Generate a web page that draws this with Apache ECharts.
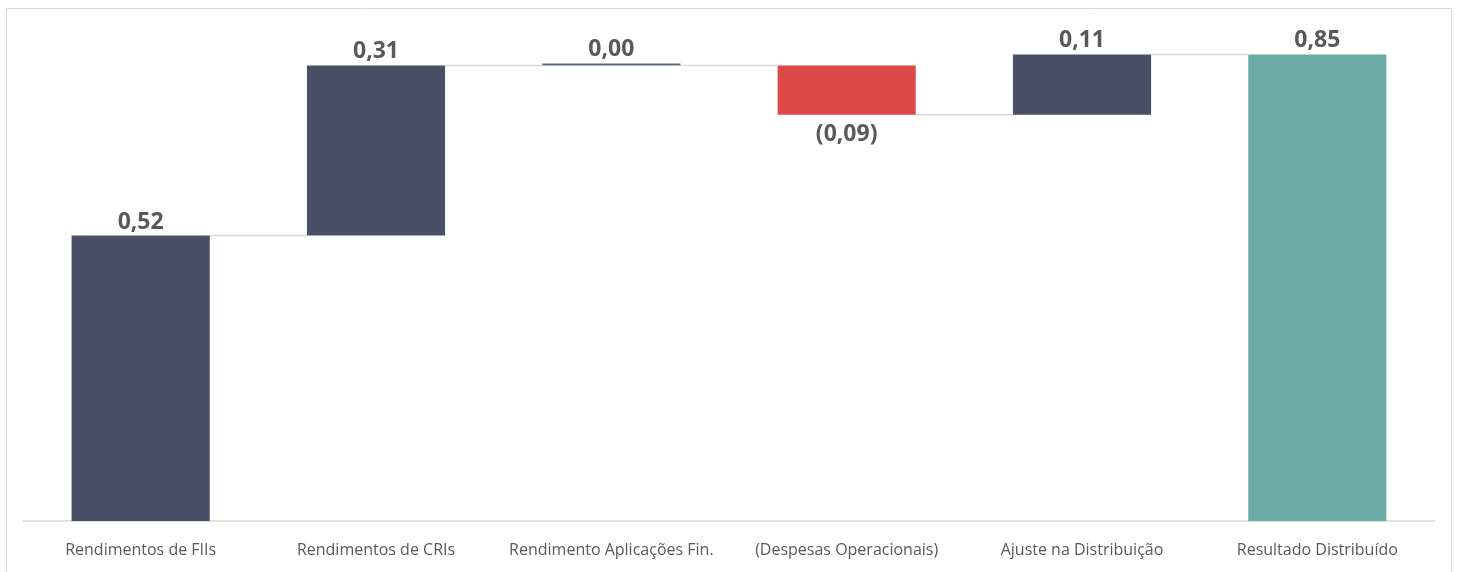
<!DOCTYPE html>
<html>
<head>
<meta charset="utf-8">
<script src="https://cdn.jsdelivr.net/npm/echarts@6/dist/echarts.min.js"></script>
<style>
  html, body { margin: 0; padding: 0; background: #fff; }
  #chart { width: 1457px; height: 572px; }
</style>
</head>
<body>
<div id="chart"></div>
<script>
var categories = [
  "Rendimentos de FIIs",
  "Rendimentos de CRIs",
  "Rendimento Aplicações Fin.",
  "(Despesas Operacionais)",
  "Ajuste na Distribuição",
  "Resultado Distribuído"
];
// signed change of each step; the last one is the total
var deltas = [0.52, 0.31, 0.00, -0.09, 0.11, 0.85];
var isTotal = [false, false, false, false, false, true];

var colUp = "#495065";
var colDown = "#db4a47";
var colTotal = "#6aaba3";

// build base (invisible) and visible heights from the deltas
var bases = [];
var heights = [];
var levels = [];
var running = 0;
for (var i = 0; i < deltas.length; i++) {
  if (isTotal[i]) {
    bases.push(0);
    heights.push(deltas[i]);
    running = deltas[i];
  } else {
    var next = running + deltas[i];
    bases.push(Math.min(running, next));
    heights.push(Math.abs(deltas[i]));
    running = next;
  }
  levels.push(Math.round(running * 100) / 100);
}

function fmt(v) {
  var s = Math.abs(v).toFixed(2).replace(".", ",");
  return v < 0 ? "(" + s + ")" : s;
}

var visible = heights.map(function (h, i) {
  var c = isTotal[i] ? colTotal : (deltas[i] < 0 ? colDown : colUp);
  if (deltas[i] === 0) c = "#5d6b80";
  return {
    value: h,
    itemStyle: { color: c },
    label: {
      position: deltas[i] < 0 ? "bottom" : "top",
      distance: deltas[i] < 0 ? 8 : 2
    }
  };
});

var connectors = [];
for (var k = 0; k < levels.length - 1; k++) {
  connectors.push([k, levels[k]]);
}

var chart = echarts.init(document.getElementById("chart"));
chart.setOption({
  animation: false,
  graphic: [{
    type: "rect",
    shape: { x: 6.5, y: 8.5, width: 1445, height: 580 },
    style: { fill: null, stroke: "#d9d9d9", lineWidth: 1 },
    silent: true
  }],
  grid: { left: 23, right: 22, top: 27, bottom: 51 },
  xAxis: {
    type: "category",
    data: categories,
    axisTick: { show: false },
    axisLine: { lineStyle: { color: "#d9d9d9", width: 1.5 } },
    axisLabel: {
      interval: 0,
      hideOverlap: false,
      color: "#595959",
      fontFamily: "Open Sans",
      fontSize: 16,
      margin: 21
    }
  },
  yAxis: {
    type: "value",
    min: 0,
    max: 0.9,
    show: false,
    splitLine: { show: false }
  },
  series: [
    {
      type: "bar",
      stack: "w",
      data: bases,
      itemStyle: { color: "transparent" },
      silent: true,
      barWidth: "58.7%"
    },
    {
      type: "bar",
      stack: "w",
      data: visible,
      barWidth: "58.7%",
      barMinHeight: 2,
      label: {
        show: true,
        fontFamily: "Open Sans",
        fontWeight: "bold",
        fontSize: 23,
        color: "#595959",
        formatter: function (p) { return fmt(deltas[p.dataIndex]); }
      }
    },
    {
      type: "custom",
      data: connectors,
      silent: true,
      z: 1,
      renderItem: function (params, api) {
        var idx = api.value(0);
        var lv = api.value(1);
        var band = api.size([1, 0])[0];
        var half = band * 0.587 / 2;
        var p1 = api.coord([idx, lv]);
        var p2 = api.coord([idx + 1, lv]);
        return {
          type: "line",
          shape: { x1: p1[0] + half, y1: p1[1], x2: p2[0] - half, y2: p2[1] },
          style: { stroke: "#d9d9d9", lineWidth: 1.5 }
        };
      }
    }
  ]
});
</script>
</body>
</html>
